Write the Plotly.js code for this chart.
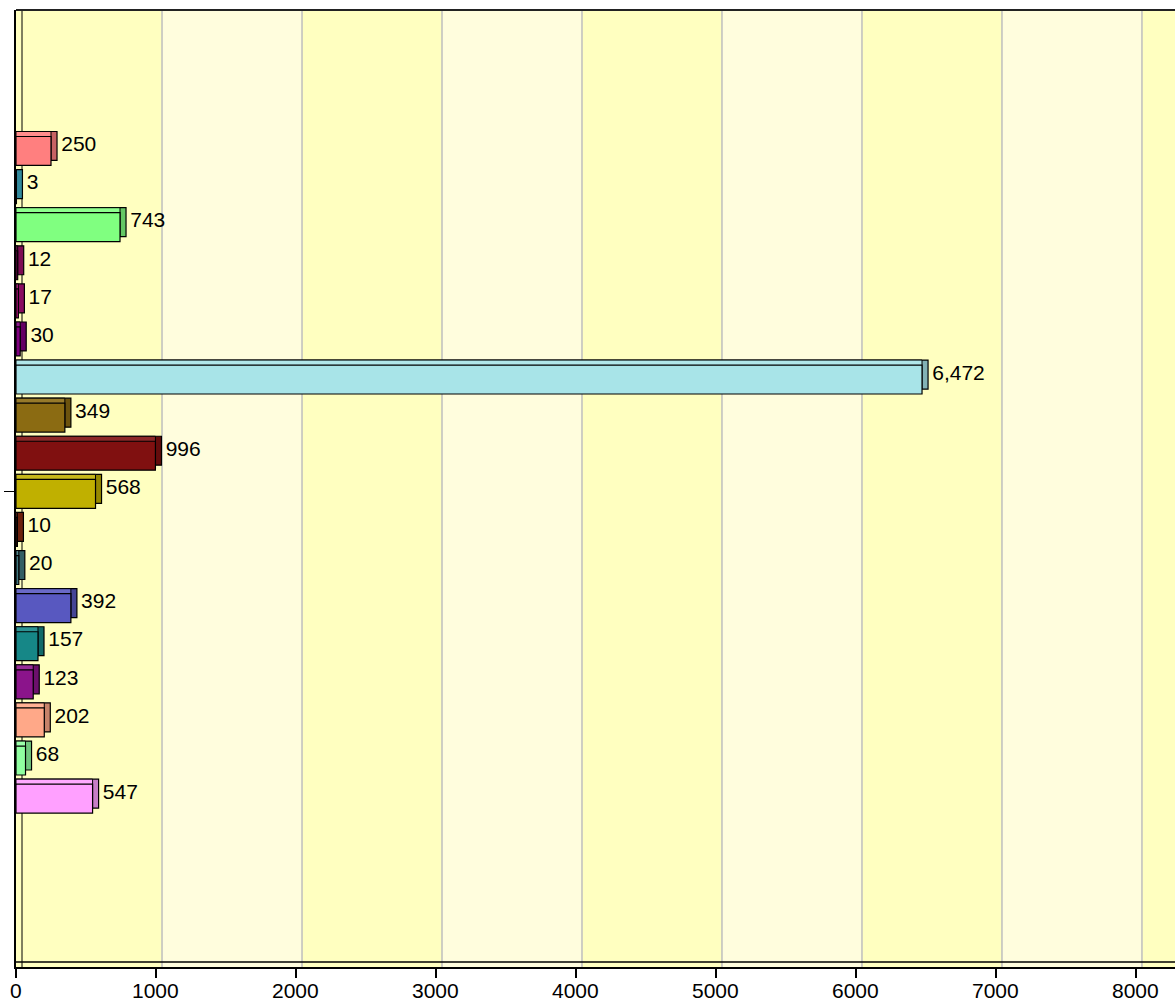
<!DOCTYPE html>
<html>
<head>
<meta charset="utf-8">
<script src="https://cdn.plot.ly/plotly-3.0.1.min.js"></script>
<style>html,body{margin:0;padding:0;background:#fff;}#chart{width:1175px;height:1002px;}</style>
</head>
<body>
<div id="chart"></div>
<script>
// ---- data (top to bottom) ----
var seriesValues = [250, 3, 743, 12, 17, 30, 6472, 349, 996, 568, 10, 20, 392, 157, 123, 202, 68, 547];
var seriesColors = ['#FF7F7F', '#40B0C8', '#80FF80', '#A0106A', '#B0107A', '#800080', '#A8E4E8', '#8B6B12', '#801010',
                    '#C0B000', '#8B2A10', '#407880', '#5858C0', '#168787', '#8B148B', '#FFA888', '#90FFA0', '#FFA0FF'];
var categoryLabels = [''];
var xTickValues = [0, 1000, 2000, 3000, 4000, 5000, 6000, 7000, 8000];
var xTickLabels = ['0', '1000', '2000', '3000', '4000', '5000', '6000', '7000', '8000'];

// ---- style constants ----
var depthX = 43;     // 3D depth in x units (~6px)
var depthY = 0.131;  // 3D depth in slot units (~5px)
var barWidth = 0.76;
var FONT = 'Liberation Sans, Arial, sans-serif';

function shade(hex, f) {
  var r = parseInt(hex.substr(1, 2), 16), g = parseInt(hex.substr(3, 2), 16), b = parseInt(hex.substr(5, 2), 16);
  function c(v) { v = f < 0 ? v * (1 + f) : v + (255 - v) * f; return Math.max(0, Math.min(255, Math.round(v))); }
  return 'rgb(' + c(r) + ',' + c(g) + ',' + c(b) + ')';
}

var idx = seriesValues.map(function (v, i) { return i; });
var idxBack = idx.map(function (i) { return i - depthY; });

// side face (whole box shifted back)
var backTrace = {
  type: 'bar', orientation: 'h',
  y: idxBack, x: seriesValues.map(function (v) { return v + depthX; }), base: 0, width: barWidth,
  marker: { color: seriesColors.map(function (c) { return shade(c, -0.22); }), line: { color: '#000', width: 1.2 } },
  hoverinfo: 'skip', showlegend: false
};
// top face
var topTrace = {
  type: 'bar', orientation: 'h',
  y: idxBack, x: seriesValues, base: 0, width: barWidth,
  marker: { color: seriesColors.map(function (c) { return shade(c, 0.1); }), line: { color: '#000', width: 1 } },
  hoverinfo: 'skip', showlegend: false
};
// front face
var frontTrace = {
  type: 'bar', orientation: 'h',
  y: idx, x: seriesValues, width: barWidth,
  marker: { color: seriesColors, line: { color: '#000', width: 1.2 } },
  showlegend: false
};
// value labels
var labelTrace = {
  type: 'scatter', mode: 'text',
  y: idxBack, x: seriesValues.map(function (v) { return v + depthX; }),
  text: seriesValues.map(function (v) { return '\u2009' + v.toLocaleString('en-US'); }),
  textposition: 'middle right', cliponaxis: false,
  textfont: { family: FONT, size: 21, color: '#000' },
  hoverinfo: 'skip', showlegend: false
};

var shapes = [];
// alternating lighter bands on the back wall
for (var k = 0; k < xTickValues.length; k++) {
  if (k % 2 === 1) {
    shapes.push({ type: 'rect', layer: 'below', xref: 'x', yref: 'paper',
      x0: xTickValues[k] + depthX, x1: xTickValues[k] + 1000 + depthX, y0: 0, y1: 1,
      fillcolor: '#FFFDDD', line: { width: 0 } });
  }
}
// gridlines on the back wall
for (var k2 = 1; k2 < xTickValues.length; k2++) {
  shapes.push({ type: 'line', layer: 'below', xref: 'x', yref: 'paper',
    x0: xTickValues[k2] + depthX, x1: xTickValues[k2] + depthX, y0: 0, y1: 1,
    line: { color: '#BEBEBE', width: 1.5 } });
}
// floor back edge
shapes.push({ type: 'line', layer: 'above', xref: 'paper', yref: 'paper', ysizemode: 'pixel', yanchor: 0,
  x0: 0, x1: 1, y0: 5, y1: 5, line: { color: '#000', width: 1.5 } });
// left wall back edge
shapes.push({ type: 'line', layer: 'below', xref: 'paper', yref: 'paper', xsizemode: 'pixel', xanchor: 0,
  x0: 6, x1: 6, y0: 0, y1: 1, line: { color: '#000', width: 1 } });
// top edge of back wall
shapes.push({ type: 'line', layer: 'above', xref: 'paper', yref: 'paper',
  x0: 0, x1: 1, y0: 1, y1: 1, line: { color: '#222', width: 2 } });

// x tick labels as annotations (placed tight under the ticks)
var annotations = xTickValues.map(function (v, i) {
  return { xref: 'x', yref: 'paper', x: v, y: 0, yanchor: 'top', xanchor: 'center', yshift: -11,
    text: xTickLabels[i], showarrow: false, borderpad: 0,
    font: { family: FONT, size: 21, color: '#000' } };
});

var layout = {
  width: 1175, height: 1002,
  margin: { l: 16, r: 0, t: 10, b: 35, pad: 0 },
  paper_bgcolor: '#FFFFFF',
  plot_bgcolor: '#FFFFC0',
  barmode: 'overlay',
  showlegend: false,
  font: { family: FONT, size: 21, color: '#000' },
  xaxis: {
    range: [0, 8279], tickvals: xTickValues, ticktext: xTickLabels, showticklabels: false,
    showgrid: false, zeroline: false, showline: true, linecolor: '#000', linewidth: 2,
    ticks: 'outside', ticklen: 9, tickwidth: 2, tickcolor: '#000'
  },
  yaxis: {
    range: [21.42, -3.70], tickvals: [8.95], ticktext: categoryLabels,
    showgrid: false, zeroline: false, showline: true, linecolor: '#000', linewidth: 2,
    ticks: 'outside', ticklen: 10, tickwidth: 1, tickcolor: '#000'
  },
  shapes: shapes,
  annotations: annotations
};

Plotly.newPlot('chart', [backTrace, topTrace, frontTrace, labelTrace], layout, { displayModeBar: false, staticPlot: true });
</script>
</body>
</html>
